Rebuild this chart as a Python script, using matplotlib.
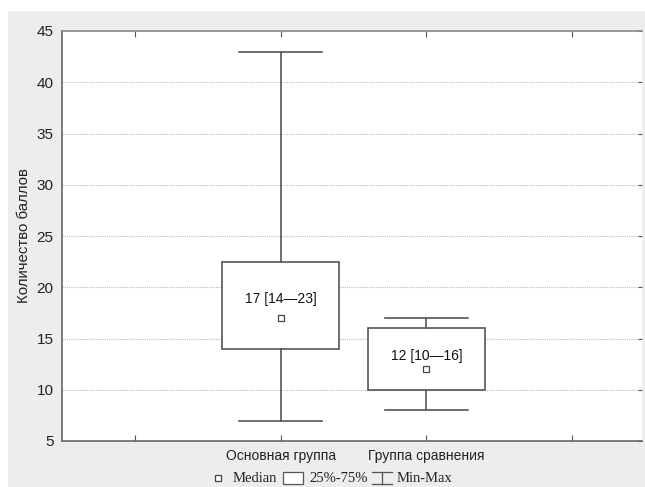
import matplotlib
matplotlib.use("Agg")
import matplotlib.pyplot as plt
from matplotlib.patches import Rectangle
from matplotlib.lines import Line2D

# Summary statistics per group
groups = ["Основная группа", "Группа сравнения"]
medians = [17, 12]
q1 = [14, 10]
q3 = [22.5, 16]
mins = [7, 8]
maxs = [43, 17]
labels = ["17 [14—23]", "12 [10—16]"]
tick_labels = ["", "Основная группа", "Группа сравнения", ""]

W, H = 645, 487
fig = plt.figure(figsize=(W / 100, H / 100), dpi=100)
fig.patch.set_facecolor("white")
# grey panel behind the chart
fig.add_artist(Rectangle((8 / W, 0), 1, 1 - 11 / H, transform=fig.transFigure,
                         facecolor="#ededed", edgecolor="none", zorder=-10))

ax = fig.add_axes([62 / W, 1 - 441 / H, (642 - 62) / W, (441 - 31) / H])
ax.set_facecolor("white")

positions = [2, 3]
stats = []
for i in range(len(groups)):
    stats.append(dict(med=medians[i], q1=q1[i], q3=q3[i],
                      whislo=mins[i], whishi=maxs[i], fliers=[]))

edge = "#555555"
ax.bxp(stats, positions=positions, widths=0.8, capwidths=0.57,
       showfliers=False, manage_ticks=False, patch_artist=True,
       boxprops=dict(facecolor="white", edgecolor=edge, linewidth=1.2),
       whiskerprops=dict(color=edge, linewidth=1.2),
       capprops=dict(color=edge, linewidth=1.2),
       medianprops=dict(linewidth=0))

ax.plot(positions, medians, linestyle="none", marker="s", markersize=5,
        markerfacecolor="white", markeredgecolor="#444444", markeredgewidth=0.9,
        zorder=5)

label_offsets = [1.85, 1.25]
for p, m, t, off in zip(positions, medians, labels, label_offsets):
    ax.text(p, m + off, t, ha="center", va="center", fontsize=10,
            family="Liberation Sans", color="#111111")

ax.set_xlim(0.5, 4.48)
ax.set_ylim(5, 45)
ax.set_xticks([1, 2, 3, 4])
ax.set_xticklabels(tick_labels, fontsize=10, family="Liberation Sans", color="#222222")
ax.set_yticks(range(5, 50, 5))
ax.tick_params(axis="y", labelsize=11, colors="#555555", labelcolor="#222222",
               direction="in", length=3, right=True, left=False, pad=6)
ax.tick_params(axis="x", colors="#555555", labelcolor="#222222",
               direction="in", length=4, top=True, bottom=True, pad=6)
for lbl in ax.get_yticklabels():
    lbl.set_family("Liberation Sans")

for y in range(10, 45, 5):
    ax.axhline(y, color="#bbbbbb", linestyle=(0, (1, 1)), linewidth=0.8, zorder=0)

ax.spines["right"].set_visible(False)
ax.spines["left"].set_color("#666666")
ax.spines["bottom"].set_color("#666666")
ax.spines["top"].set_color("#888888")
for s in ("left", "bottom", "top"):
    ax.spines[s].set_linewidth(1.2)

ax.set_ylabel("Количество баллов", fontsize=10.8, family="Liberation Sans",
              color="#222222", labelpad=4)

# Legend row drawn in figure pixels
def fx(px):
    return px / W

def fy(py):
    return 1 - py / H

ly = 478
tf = fig.transFigure
fig.add_artist(Line2D([fx(218)], [fy(ly)], transform=tf, marker="s", markersize=5,
                      markerfacecolor="white", markeredgecolor="#444444",
                      markeredgewidth=0.9, linestyle="none"))
fig.text(fx(233), fy(ly), "Median", transform=tf, ha="left", va="center",
         fontsize=10.5, family="Liberation Serif", color="#222222")
fig.add_artist(Rectangle((fx(283), fy(ly + 6)), fx(303) - fx(283), fy(ly - 6) - fy(ly + 6),
                         transform=tf, facecolor="white", edgecolor="#555555", linewidth=0.9))
fig.text(fx(309), fy(ly), "25%-75%", transform=tf, ha="left", va="center",
         fontsize=10.5, family="Liberation Serif", color="#222222")
fig.add_artist(Line2D([fx(372), fx(392)], [fy(ly - 6), fy(ly - 6)], transform=tf,
                      color="#555555", linewidth=0.9))
fig.add_artist(Line2D([fx(372), fx(392)], [fy(ly + 6), fy(ly + 6)], transform=tf,
                      color="#555555", linewidth=0.9))
fig.add_artist(Line2D([fx(382), fx(382)], [fy(ly - 6), fy(ly + 6)], transform=tf,
                      color="#555555", linewidth=0.9))
fig.text(fx(397), fy(ly), "Min-Max", transform=tf, ha="left", va="center",
         fontsize=10.5, family="Liberation Serif", color="#222222")

fig.savefig("out.png", dpi=100)
